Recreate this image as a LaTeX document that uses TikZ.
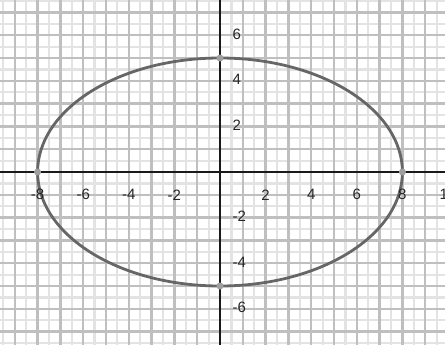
\documentclass[tikz,border=0pt]{standalone}
\usepackage{fontspec}
\setmainfont{Liberation Sans}
\tikzset{
  halfgrid/.style={draw=gray!22, line width=2.2pt},
  unitgrid/.style={draw=gray!50, line width=2.4pt},
  axisline/.style={draw=black!90, line width=2.6pt},
  curve/.style={draw=gray!80!black, line width=2.8pt},
  vertexdot/.style={circle, fill=gray!75, inner sep=0pt, minimum size=7pt},
  ticklabel/.style={font=\fontsize{15}{17}\selectfont, text=black!85, inner sep=0pt}
}
\begin{document}
\begin{tikzpicture}[x=22.8pt,y=22.8pt]
\useasboundingbox (-9.649,-7.544) rectangle (9.868,7.544);
\clip (-9.649,-7.544) rectangle (9.868,7.544);
\fill[white] (-9.649,-7.544) rectangle (9.868,7.544);
% half-unit grid
\foreach \i in {-9.5,-8.5,...,9.5} \draw[halfgrid] (\i,-7.6) -- (\i,7.6);
\foreach \j in {-7.5,-6.5,...,7.5} \draw[halfgrid] (-9.7,\j) -- (9.9,\j);
% unit grid
\foreach \i in {-9,...,9} \draw[unitgrid] (\i,-7.6) -- (\i,7.6);
\foreach \j in {-7,...,7} \draw[unitgrid] (-9.7,\j) -- (9.9,\j);
% axes
\coordinate (xl) at (-9.7,0);
\coordinate (xr) at (9.9,0);
\coordinate (yb) at (0,-7.6);
\coordinate (yt) at (0,7.6);
\draw[axisline] (xl) -- (xr);
\draw[axisline] (yb) -- (yt);
% ellipse
\draw[curve] (0,0) ellipse [x radius=8, y radius=5];
% vertices
\node[vertexdot] (vr) at (8,0) {};
\node[vertexdot] (vl) at (-8,0) {};
\node[vertexdot] (vt) at (0,5) {};
\node[vertexdot] (vb) at (0,-5) {};
% x labels
\foreach \v in {-8,-6,-4,-2,2,4,6,8,10}
  \node[ticklabel] (xlab\v) at (\v,-1.0) {\v};
% y labels
\foreach \v in {6,4,2,-2,-4,-6}
  \node[ticklabel, anchor=west] (ylab\v) at (0.55,\v+0.05) {\v};
\end{tikzpicture}
\end{document}
